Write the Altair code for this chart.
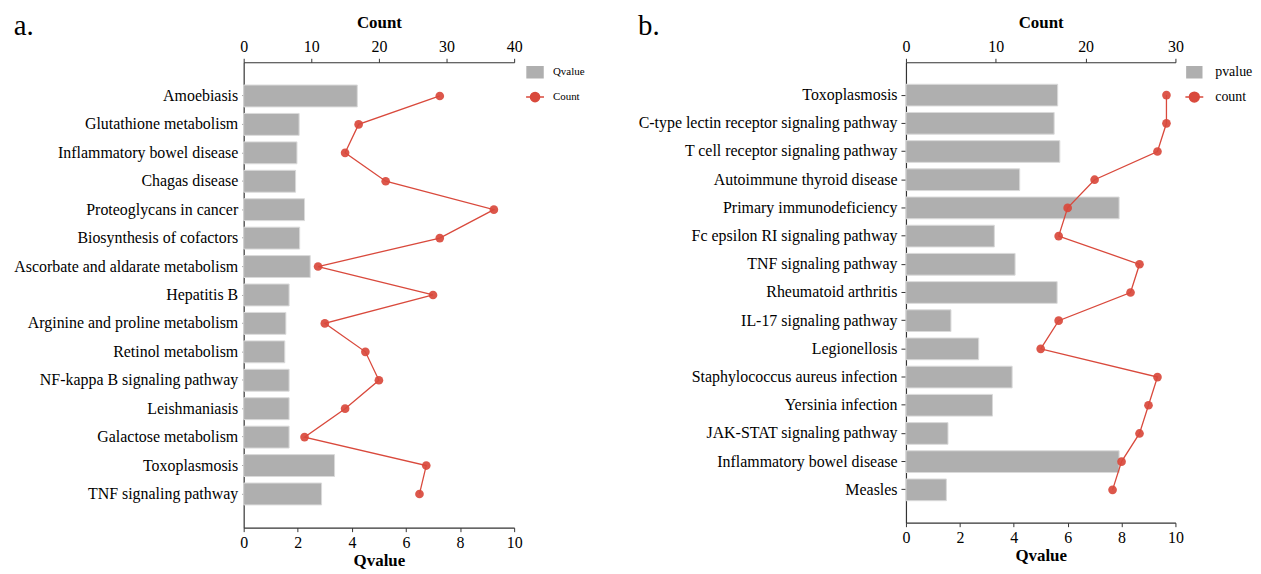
import altair as alt
import pandas as pd

# ---------------- data ----------------
left_terms = [
    "Amoebiasis", "Glutathione metabolism", "Inflammatory bowel disease",
    "Chagas disease", "Proteoglycans in cancer", "Biosynthesis of cofactors",
    "Ascorbate and aldarate metabolism", "Hepatitis B",
    "Arginine and proline metabolism", "Retinol metabolism",
    "NF-kappa B signaling pathway", "Leishmaniasis", "Galactose metabolism",
    "Toxoplasmosis", "TNF signaling pathway",
]
left_qvalue = [4.20, 2.05, 1.97, 1.92, 2.25, 2.07, 2.46, 1.68, 1.56, 1.52,
               1.68, 1.68, 1.68, 3.36, 2.88]
left_count = [29, 17, 15, 21, 37, 29, 11, 28, 12, 18, 20, 15, 9, 27, 26]

right_terms = [
    "Toxoplasmosis", "C-type lectin receptor signaling pathway",
    "T cell receptor signaling pathway", "Autoimmune thyroid disease",
    "Primary immunodeficiency", "Fc epsilon RI signaling pathway",
    "TNF signaling pathway", "Rheumatoid arthritis", "IL-17 signaling pathway",
    "Legionellosis", "Staphylococcus aureus infection", "Yersinia infection",
    "JAK-STAT signaling pathway", "Inflammatory bowel disease", "Measles",
]
right_qvalue = [5.63, 5.50, 5.71, 4.22, 7.91, 3.28, 4.05, 5.61, 1.67, 2.70,
                3.94, 3.21, 1.56, 7.91, 1.50]
right_count = [29, 29, 28, 21, 18, 17, 26, 25, 17, 15, 28, 27, 26, 24, 23]

qvalue_ticks = [0, 2, 4, 6, 8, 10]
left_count_ticks = [0, 10, 20, 30, 40]
right_count_ticks = [0, 10, 20, 30]

GRAY = "#AFAFAF"
RED = "#D9493C"
FONT = "Liberation Serif"


def panel(terms, qvals, counts, qname, cname, count_ticks, tag, width, height,
          pad_outer, legend_font, ytick_size, ytick_color, rect_path,
          line_path, legend_offset, label_offset):
    df = pd.DataFrame({
        "term": terms, "q": qvals, "count": counts,
        "idx": list(range(len(terms))), "series": [cname] * len(terms),
    })
    yenc = alt.Y(
        "term:N", sort=terms,
        scale=alt.Scale(paddingInner=0.23, paddingOuter=pad_outer),
        axis=alt.Axis(title=None, tickSize=ytick_size, tickColor=ytick_color,
                      labelPadding=4, labelLimit=400),
    )
    xq = alt.X("q:Q", scale=alt.Scale(domain=[0, 10], nice=False),
               axis=alt.Axis(orient="bottom", title="Qvalue",
                             values=qvalue_ticks, titlePadding=2,
                             labelPadding=3, labelFlush=False))
    xc = alt.X("count:Q",
               scale=alt.Scale(domain=[0, count_ticks[-1]], nice=False),
               axis=alt.Axis(orient="top", title="Count", values=count_ticks,
                             titlePadding=7, labelPadding=4, labelFlush=False))
    bars = alt.Chart(df).mark_bar(color=GRAY, stroke="#DADADA",
                                  strokeWidth=1).encode(x=xq, y=yenc)
    line = alt.Chart(df).mark_line(color=RED, strokeWidth=1.3).encode(
        x=xc, y=yenc, order=alt.Order("idx:Q"))
    pts = alt.Chart(df).mark_point(filled=True, size=76, color=RED,
                                   opacity=0.92).encode(x=xc, y=yenc)
    leg = alt.Legend(title=None, orient="right", offset=legend_offset,
                     symbolSize=324, symbolStrokeWidth=1.5, symbolOpacity=1,
                     labelFont=FONT, labelFontSize=legend_font,
                     labelColor="#000", labelOffset=label_offset,
                     rowPadding=6)
    dom = [qname, cname]
    legend_layer = alt.Chart(df).mark_point(filled=True, size=0,
                                            opacity=1).encode(
        x=xc, y=yenc,
        fill=alt.Fill("series:N", scale=alt.Scale(domain=dom, range=[GRAY, RED]), legend=leg),
        stroke=alt.Stroke("series:N", scale=alt.Scale(domain=dom, range=[GRAY, RED]), legend=leg),
        shape=alt.Shape("series:N", scale=alt.Scale(domain=dom, range=[rect_path, line_path]), legend=leg),
    )
    top = alt.layer(line, pts, legend_layer)
    return alt.layer(bars, top).resolve_scale(x="independent").properties(
        width=width, height=height,
        title=alt.TitleParams(tag, anchor="start", frame="bounds", font=FONT,
                              fontSize=29, fontWeight="normal", color="#000",
                              dy=28, offset=0),
    )


left = panel(left_terms, left_qvalue, left_count, "Qvalue", "Count",
             left_count_ticks, "a.", 272, 468, 0.8, 11, 2, "#999999",
             "M-0.89,-0.61H0.89V0.61H-0.89Z",
             "M-1,0L1,0M-0.51,0A0.51,0.51,0,1,1,0.51,0A0.51,0.51,0,1,1,-0.51,0Z",
             11, 8)
right = panel(right_terms, right_qvalue, right_count, "pvalue", "count",
              right_count_ticks, "b.", 271, 463, 0.78, 14, 5, "#333333",
              "M-0.83,-0.61H0.83V0.61H-0.83Z",
              "M-1,0L1,0M-0.55,0A0.55,0.55,0,1,1,0.55,0A0.55,0.55,0,1,1,-0.55,0Z",
              9, 11)

chart = alt.hconcat(left, right, spacing=53).resolve_scale(
    fill="independent", stroke="independent", shape="independent"
).resolve_legend(
    fill="independent", stroke="independent", shape="independent"
).properties(
    padding={"left": 5, "top": 3, "right": 0, "bottom": 0}
).configure_view(stroke=None).configure_axis(
    labelFont=FONT, labelFontSize=16, labelColor="#000",
    titleFont=FONT, titleFontSize=17, titleFontWeight="bold", titleColor="#000",
    domainColor="#333333", domainWidth=1.2, tickColor="#333333", tickSize=4,
    grid=False,
)

chart.save("out.html", embed_options={"renderer": "svg", "actions": False})
